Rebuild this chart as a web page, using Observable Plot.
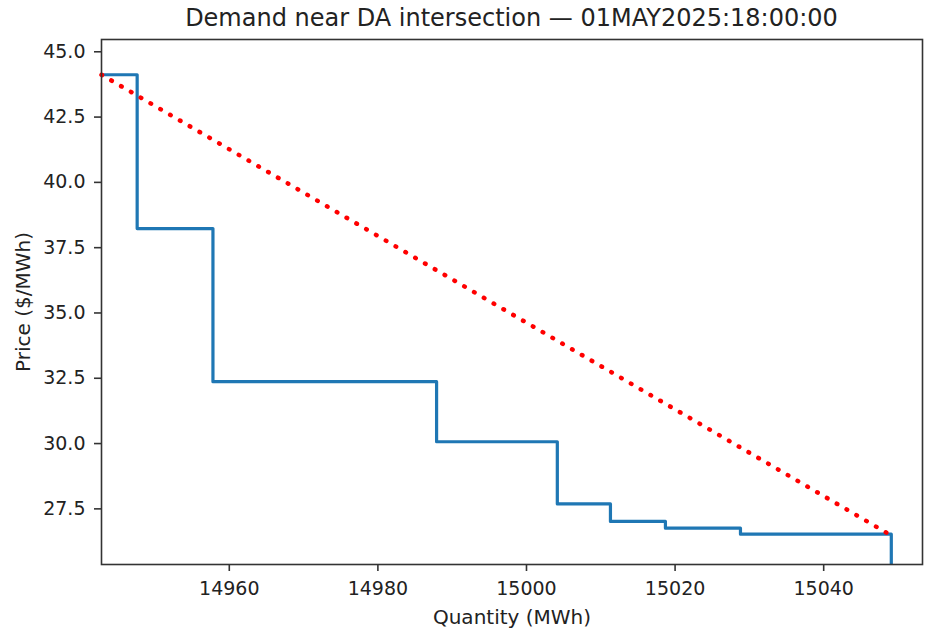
<!DOCTYPE html>
<html>
<head>
<meta charset="utf-8">
<script src="https://cdn.jsdelivr.net/npm/d3@7"></script>
<script src="https://cdn.jsdelivr.net/npm/@observablehq/plot@0.6"></script>
<style>
  html, body { margin: 0; padding: 0; background: #fff; }
  #wrap { width: 938px; height: 636px; }
  #title {
    height: 30px; box-sizing: border-box; padding-top: 6.4px;
    padding-left: 101px; padding-right: 16px;
    font-family: "DejaVu Sans", sans-serif; font-size: 24px; line-height: 24px;
    color: #222; text-align: center; white-space: nowrap;
  }
  svg { display: block; }
</style>
</head>
<body>
<div id="wrap">
  <div id="title">Demand near DA intersection — 01MAY2025:18:00:00</div>
  <div id="chart"></div>
</div>
<script>
// Demand curve steps (steps-post): quantity where each price level begins
const stepQty   = [14942.8, 14947.6, 14957.8, 14987.9, 15004.15, 15011.3, 15018.7, 15028.8, 15049.1];
const stepPrice = [44.12,   38.23,   32.37,   30.07,   27.69,    27.02,   26.76,   26.53,   25.0];

// Dotted red reference line endpoints
const refQty   = [14942.8, 15049.1];
const refPrice = [44.12, 26.48];

// Axes
const xTicks = [14960, 14980, 15000, 15020, 15040];
const yTicks = [27.5, 30.0, 32.5, 35.0, 37.5, 40.0, 42.5, 45.0];
const xDomain = [14942.8, 15053.3];
const yDomain = [25.37, 45.47];
const xLabel = "Quantity (MWh)";
const yLabel = "Price ($/MWh)";

const steps = stepQty.map((q, i) => ({q, p: stepPrice[i]}));
const ref = refQty.map((q, i) => ({q, p: refPrice[i]}));

const axisColor = "#333";

const chart = Plot.plot({
  width: 938,
  height: 606,
  marginTop: 9,
  marginBottom: 72,
  marginLeft: 101,
  marginRight: 16,
  style: {fontFamily: "DejaVu Sans, sans-serif", fontSize: "19px", color: "#222", background: "#fff"},
  x: {domain: xDomain},
  y: {domain: yDomain},
  marks: [
    Plot.line(steps, {x: "q", y: "p", curve: "step-after", stroke: "#1f77b4", strokeWidth: 3.2, clip: true}),
    Plot.line(ref, {x: "q", y: "p", stroke: "red", strokeWidth: 4.5, strokeLinecap: "round",
      strokeDasharray: "0.6 10.75", clip: false}),
    Plot.frame({stroke: axisColor, strokeWidth: 1.6}),
    Plot.axisX({ticks: xTicks, tickSize: 7, tickPadding: 10, stroke: axisColor, strokeWidth: 1.6,
      label: null, tickFormat: d3.format("d"), fill: "#222"}),
    Plot.axisY({ticks: yTicks, tickSize: 7, tickPadding: 9, stroke: axisColor, strokeWidth: 1.6,
      label: null, tickFormat: d3.format(".1f"), fill: "#222"}),
    Plot.text([xLabel], {text: d => d, frameAnchor: "bottom", dy: 59.3, lineAnchor: "bottom",
      fontSize: 20, fill: "#222"}),
    Plot.text([yLabel], {text: d => d, frameAnchor: "left", dx: -77.8, rotate: -90,
      textAnchor: "middle", lineAnchor: "middle", fontSize: 20, fill: "#222"})
  ]
});
document.getElementById("chart").appendChild(chart);
</script>
</body>
</html>
